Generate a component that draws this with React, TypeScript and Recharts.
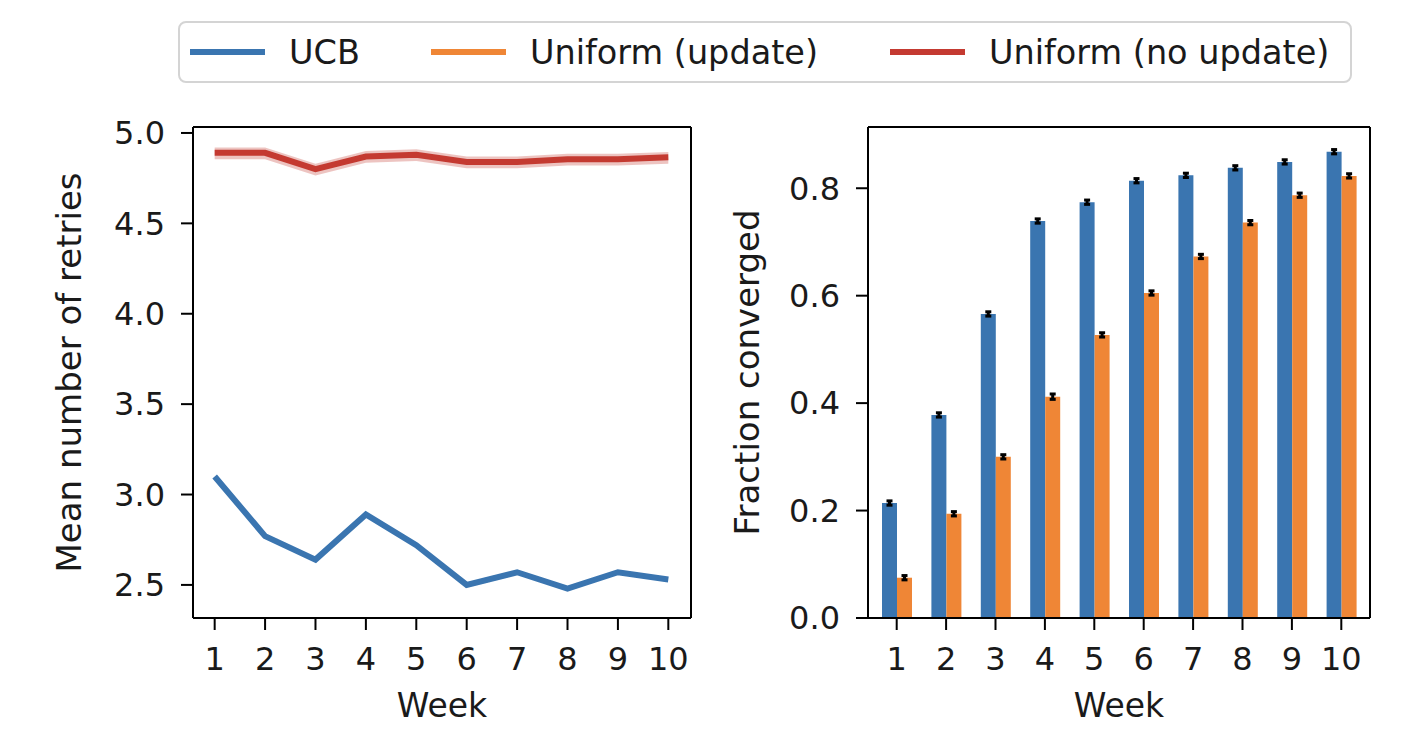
import React from "react";
import {
  ComposedChart,
  Line,
  Area,
  Bar,
  ErrorBar,
  XAxis,
  YAxis,
  Label,
} from "recharts";

// values
const weeks = [1, 2, 3, 4, 5, 6, 7, 8, 9, 10];
const ucbRetries = [3.1, 2.77, 2.64, 2.89, 2.72, 2.5, 2.57, 2.48, 2.57, 2.53];
const noUpdateRetries = [4.89, 4.89, 4.8, 4.87, 4.88, 4.84, 4.84, 4.855, 4.855, 4.865];
const noUpdateLow = [4.855, 4.855, 4.765, 4.835, 4.845, 4.805, 4.805, 4.82, 4.82, 4.83];
const noUpdateHigh = [4.92, 4.92, 4.83, 4.9, 4.91, 4.87, 4.87, 4.885, 4.885, 4.895];

const ucbFraction = [0.214, 0.378, 0.566, 0.739, 0.774, 0.814, 0.824, 0.838, 0.849, 0.868];
const updateFraction = [0.075, 0.194, 0.3, 0.412, 0.527, 0.605, 0.673, 0.736, 0.787, 0.823];
const ucbErr = [0.004, 0.004, 0.004, 0.004, 0.004, 0.004, 0.004, 0.004, 0.004, 0.004];
const updateErr = [0.004, 0.004, 0.004, 0.005, 0.004, 0.004, 0.004, 0.004, 0.004, 0.004];

const retryTicks = [2.5, 3.0, 3.5, 4.0, 4.5, 5.0];
const fractionTicks = [0, 0.2, 0.4, 0.6, 0.8];

const BLUE = "#3a75b0";
const ORANGE = "#ef8636";
const RED = "#c43a31";
const INK = "#1a1a1a";
const FONT = "'DejaVu Sans', sans-serif";

const retryData = weeks.map((w, i) => ({
  week: w,
  ucb: ucbRetries[i],
  noUpdate: noUpdateRetries[i],
  band: [noUpdateLow[i], noUpdateHigh[i]],
}));

const fractionData = weeks.map((w, i) => ({
  week: String(w),
  ucb: ucbFraction[i],
  update: updateFraction[i],
  ucbErr: ucbErr[i],
  updateErr: updateErr[i],
}));

const tickStyle = { fill: INK, fontSize: 32, fontFamily: FONT };
const labelStyle = { fill: INK, fontSize: 33, fontFamily: FONT };
const yLabelStyle = { fill: INK, fontSize: 34, fontFamily: FONT, textAnchor: "middle" as const };
const axisLine = { stroke: "#000", strokeWidth: 2 };
const tickLine = { stroke: "#000", strokeWidth: 2 };

const legendItems = [
  { name: "UCB", color: BLUE, left: 10 },
  { name: "Uniform (update)", color: ORANGE, left: 251 },
  { name: "Uniform (no update)", color: RED, left: 710 },
];

function Legend() {
  return (
    <div
      style={{
        position: "absolute",
        left: 178,
        top: 21,
        width: 1170,
        height: 58,
        border: "2px solid #d4d4d4",
        borderRadius: 8,
        background: "#fff",
        fontFamily: FONT,
        fontSize: 33.5,
        color: INK,
      }}
    >
      {legendItems.map((it) => (
        <div
          key={it.name}
          style={{
            position: "absolute",
            left: it.left,
            top: 0,
            height: 58,
            display: "flex",
            alignItems: "center",
            whiteSpace: "nowrap",
          }}
        >
          <div style={{ width: 75, height: 6, background: it.color }} />
          <span style={{ marginLeft: 24 }}>{it.name}</span>
        </div>
      ))}
    </div>
  );
}

export default function App() {
  return (
    <div
      style={{
        position: "absolute",
        left: 0,
        top: 0,
        width: 1403,
        height: 729,
        background: "#fff",
        fontFamily: FONT,
      }}
    >
      <Legend />

      <div style={{ position: "absolute", left: 0, top: 0 }}>
        <ComposedChart
          width={720}
          height={729}
          data={retryData}
          margin={{ top: 126, right: 28, bottom: 0, left: 0 }}
        >
          <XAxis
            dataKey="week"
            type="number"
            domain={[0.57, 10.45]}
            ticks={weeks}
            interval={0}
            allowDataOverflow
            height={111}
            tickSize={12}
            tickMargin={17}
            tick={tickStyle}
            axisLine={axisLine}
            tickLine={tickLine}
          >
            <Label value="Week" position="insideBottom" offset={12} style={labelStyle} />
          </XAxis>
          <XAxis
            xAxisId="top"
            orientation="top"
            dataKey="week"
            type="number"
            domain={[0.57, 10.45]}
            allowDataOverflow
            height={1}
            tick={false}
            tickLine={false}
            axisLine={axisLine}
          />
          <YAxis
            type="number"
            domain={[2.317, 5.033]}
            ticks={retryTicks}
            interval={0}
            allowDataOverflow
            width={193}
            tickSize={12}
            tickMargin={16}
            tick={tickStyle}
            axisLine={axisLine}
            tickLine={tickLine}
            tickFormatter={(v: number) => v.toFixed(1)}
          >
            <Label
              value="Mean number of retries"
              angle={-90}
              position="center"
              dx={-28}
              style={yLabelStyle}
            />
          </YAxis>
          <YAxis
            yAxisId="right"
            orientation="right"
            type="number"
            domain={[2.317, 5.033]}
            allowDataOverflow
            width={1}
            tick={false}
            tickLine={false}
            axisLine={axisLine}
          />
          {/* invisible series so the top/right frame axes get drawn */}
          <Line
            xAxisId="top"
            yAxisId="right"
            dataKey="ucb"
            stroke="transparent"
            dot={false}
            activeDot={false}
            isAnimationActive={false}
          />
          <Area
            dataKey="band"
            type="linear"
            stroke="none"
            fill={RED}
            fillOpacity={0.3}
            isAnimationActive={false}
          />
          <Line
            dataKey="noUpdate"
            type="linear"
            stroke={RED}
            strokeWidth={6}
            dot={false}
            isAnimationActive={false}
          />
          <Line
            dataKey="ucb"
            type="linear"
            stroke={BLUE}
            strokeWidth={6}
            dot={false}
            isAnimationActive={false}
          />
        </ComposedChart>
      </div>

      <div style={{ position: "absolute", left: 720, top: 0 }}>
        <ComposedChart
          width={683}
          height={729}
          data={fractionData}
          margin={{ top: 126, right: 32, bottom: 0, left: 0 }}
          barGap={0}
        >
          <XAxis
            dataKey="week"
            height={111}
            padding={{ left: 4, right: 4 }}
            interval={0}
            tickSize={12}
            tickMargin={17}
            tick={tickStyle}
            axisLine={axisLine}
            tickLine={tickLine}
          >
            <Label value="Week" position="insideBottom" offset={12} style={labelStyle} />
          </XAxis>
          <XAxis
            xAxisId="top"
            orientation="top"
            dataKey="week"
            height={1}
            tick={false}
            tickLine={false}
            axisLine={axisLine}
          />
          <YAxis
            type="number"
            domain={[0, 0.914]}
            ticks={fractionTicks}
            interval={0}
            allowDataOverflow
            width={148}
            tickSize={12}
            tickMargin={16}
            tick={tickStyle}
            axisLine={axisLine}
            tickLine={tickLine}
            tickFormatter={(v: number) => v.toFixed(1)}
          >
            <Label
              value="Fraction converged"
              angle={-90}
              position="center"
              dx={-47}
              style={yLabelStyle}
            />
          </YAxis>
          <YAxis
            yAxisId="right"
            orientation="right"
            type="number"
            domain={[0, 0.914]}
            allowDataOverflow
            width={1}
            tick={false}
            tickLine={false}
            axisLine={axisLine}
          />
          {/* invisible series so the top/right frame axes get drawn */}
          <Line
            xAxisId="top"
            yAxisId="right"
            dataKey="ucb"
            stroke="transparent"
            dot={false}
            activeDot={false}
            isAnimationActive={false}
          />
          <Bar dataKey="ucb" fill={BLUE} barSize={15} isAnimationActive={false}>
            <ErrorBar dataKey="ucbErr" width={3} strokeWidth={3} stroke="#000" />
          </Bar>
          <Bar dataKey="update" fill={ORANGE} barSize={15} isAnimationActive={false}>
            <ErrorBar dataKey="updateErr" width={3} strokeWidth={3} stroke="#000" />
          </Bar>
        </ComposedChart>
      </div>
    </div>
  );
}
